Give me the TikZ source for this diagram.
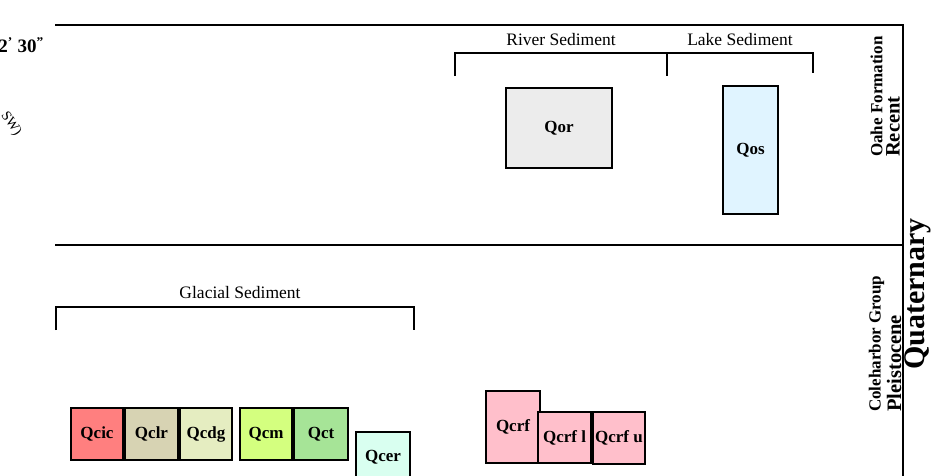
\documentclass[tikz,border=0pt]{standalone}
\usepackage{fontspec}
\setmainfont{Liberation Serif}
\usetikzlibrary{positioning}
\usepackage{xcolor}
\definecolor{cic}{HTML}{FF7F7F}
\definecolor{clr}{HTML}{D7D3B3}
\definecolor{cdg}{HTML}{E5EDC1}
\definecolor{ccm}{HTML}{D4FF7F}
\definecolor{cct}{HTML}{A6E497}
\definecolor{cer}{HTML}{D9FFF0}
\definecolor{crf}{HTML}{FFBFCB}
\definecolor{cor}{HTML}{ECECEC}
\definecolor{cos}{HTML}{E0F4FF}

\begin{document}
\begin{tikzpicture}[x=1pt, y=-1pt,
        unit/.style={rectangle, draw, line width=2pt, inner sep=0pt, minimum width=52pt, minimum height=52pt,
            font=\bfseries\fontsize{17}{17}\selectfont},
        group/.style={font=\fontsize{17.5}{17.5}\selectfont},
        age/.style={rotate=90, anchor=west, inner sep=0pt, font=\bfseries\fontsize{20.5}{20.5}\selectfont},
        rank/.style={rotate=90, anchor=west, inner sep=0pt, font=\bfseries\fontsize{17}{17}\selectfont},
        frame/.style={line width=2pt},
        bracket/.style={line width=2pt}
    ]
        \useasboundingbox (0,0) rectangle (934,475);

        % Frame
        \draw[frame] (55,24.5) -- (903,24.5) -- (903,480);
        \draw[frame] (55,244.5) -- (903,244.5);

        % Margin texts
        \node[anchor=east, inner sep=0pt, font=\bfseries\fontsize{19}{19}\selectfont] (sec) at (44,45) {2\textsuperscript{'} 30\textsuperscript{''}};
        \node[rotate=-55, inner sep=0pt, font=\fontsize{14}{14}\selectfont] (dir) at (11,124) {SW)};

        % Nodes: Recent
        \node[unit, fill=cor, minimum width=106pt, minimum height=80pt] (qor) at (559,128) {Qor};
        \node[unit, fill=cos, minimum width=55pt, minimum height=128pt] (qos) at (750.5,150) {Qos};

        % Nodes: Pleistocene
        \node[unit, fill=cic] (qcic) at (97,434) {Qcic};
        \node[unit, fill=clr, right = 0pt of qcic, minimum width=53pt] (qclr) {Qclr};
        \node[unit, fill=cdg, right = 0pt of qclr] (qcdg) {Qcdg};
        \node[unit, fill=ccm] (qcm) at (266,434) {Qcm};
        \node[unit, fill=cct, right = 0pt of qcm, minimum width=54pt] (qct) {Qct};
        \node[unit, fill=cer, minimum width=54pt, minimum height=50pt] (qcer) at (383,457) {Qcer};

        \node[unit, fill=crf, minimum width=54pt, minimum height=72pt] (qcrf) at (513,427) {Qcrf};
        \node[unit, fill=crf, minimum width=53pt, minimum height=51pt] (qcrfl) at (564.5,437.5) {Qcrf l};
        \node[unit, fill=crf, right = 0pt of qcrfl] (qcrfu) {Qcrf u};

        % Brackets
        \draw[bracket] (455,76) |- (667,53) -- (667,76);
        \draw[bracket] (668,53) -- (813,53) -- (813,73);
        \draw[bracket] (56,330) |- (414,307) -- (414,330);
        \node[group] (river) at (561,40) {River Sediment};
        \node[group] (lake) at (740,40) {Lake Sediment};
        \node[group] (glacial) at (240,293) {Glacial Sediment};

        % Time column
        \node[rank] (oahe) at (876.5,157) {Oahe Formation};
        \node[age] (recent) at (893,157) {Recent};
        \node[rank] (coleh) at (876.5,412) {Coleharbor Group};
        \node[age] (pleis) at (894,412) {Pleistocene};
        \node[rotate=90, inner sep=0pt, font=\bfseries\fontsize{30}{30}\selectfont] (quat) at (918,294) {Quaternary};
\end{tikzpicture}
\end{document}
